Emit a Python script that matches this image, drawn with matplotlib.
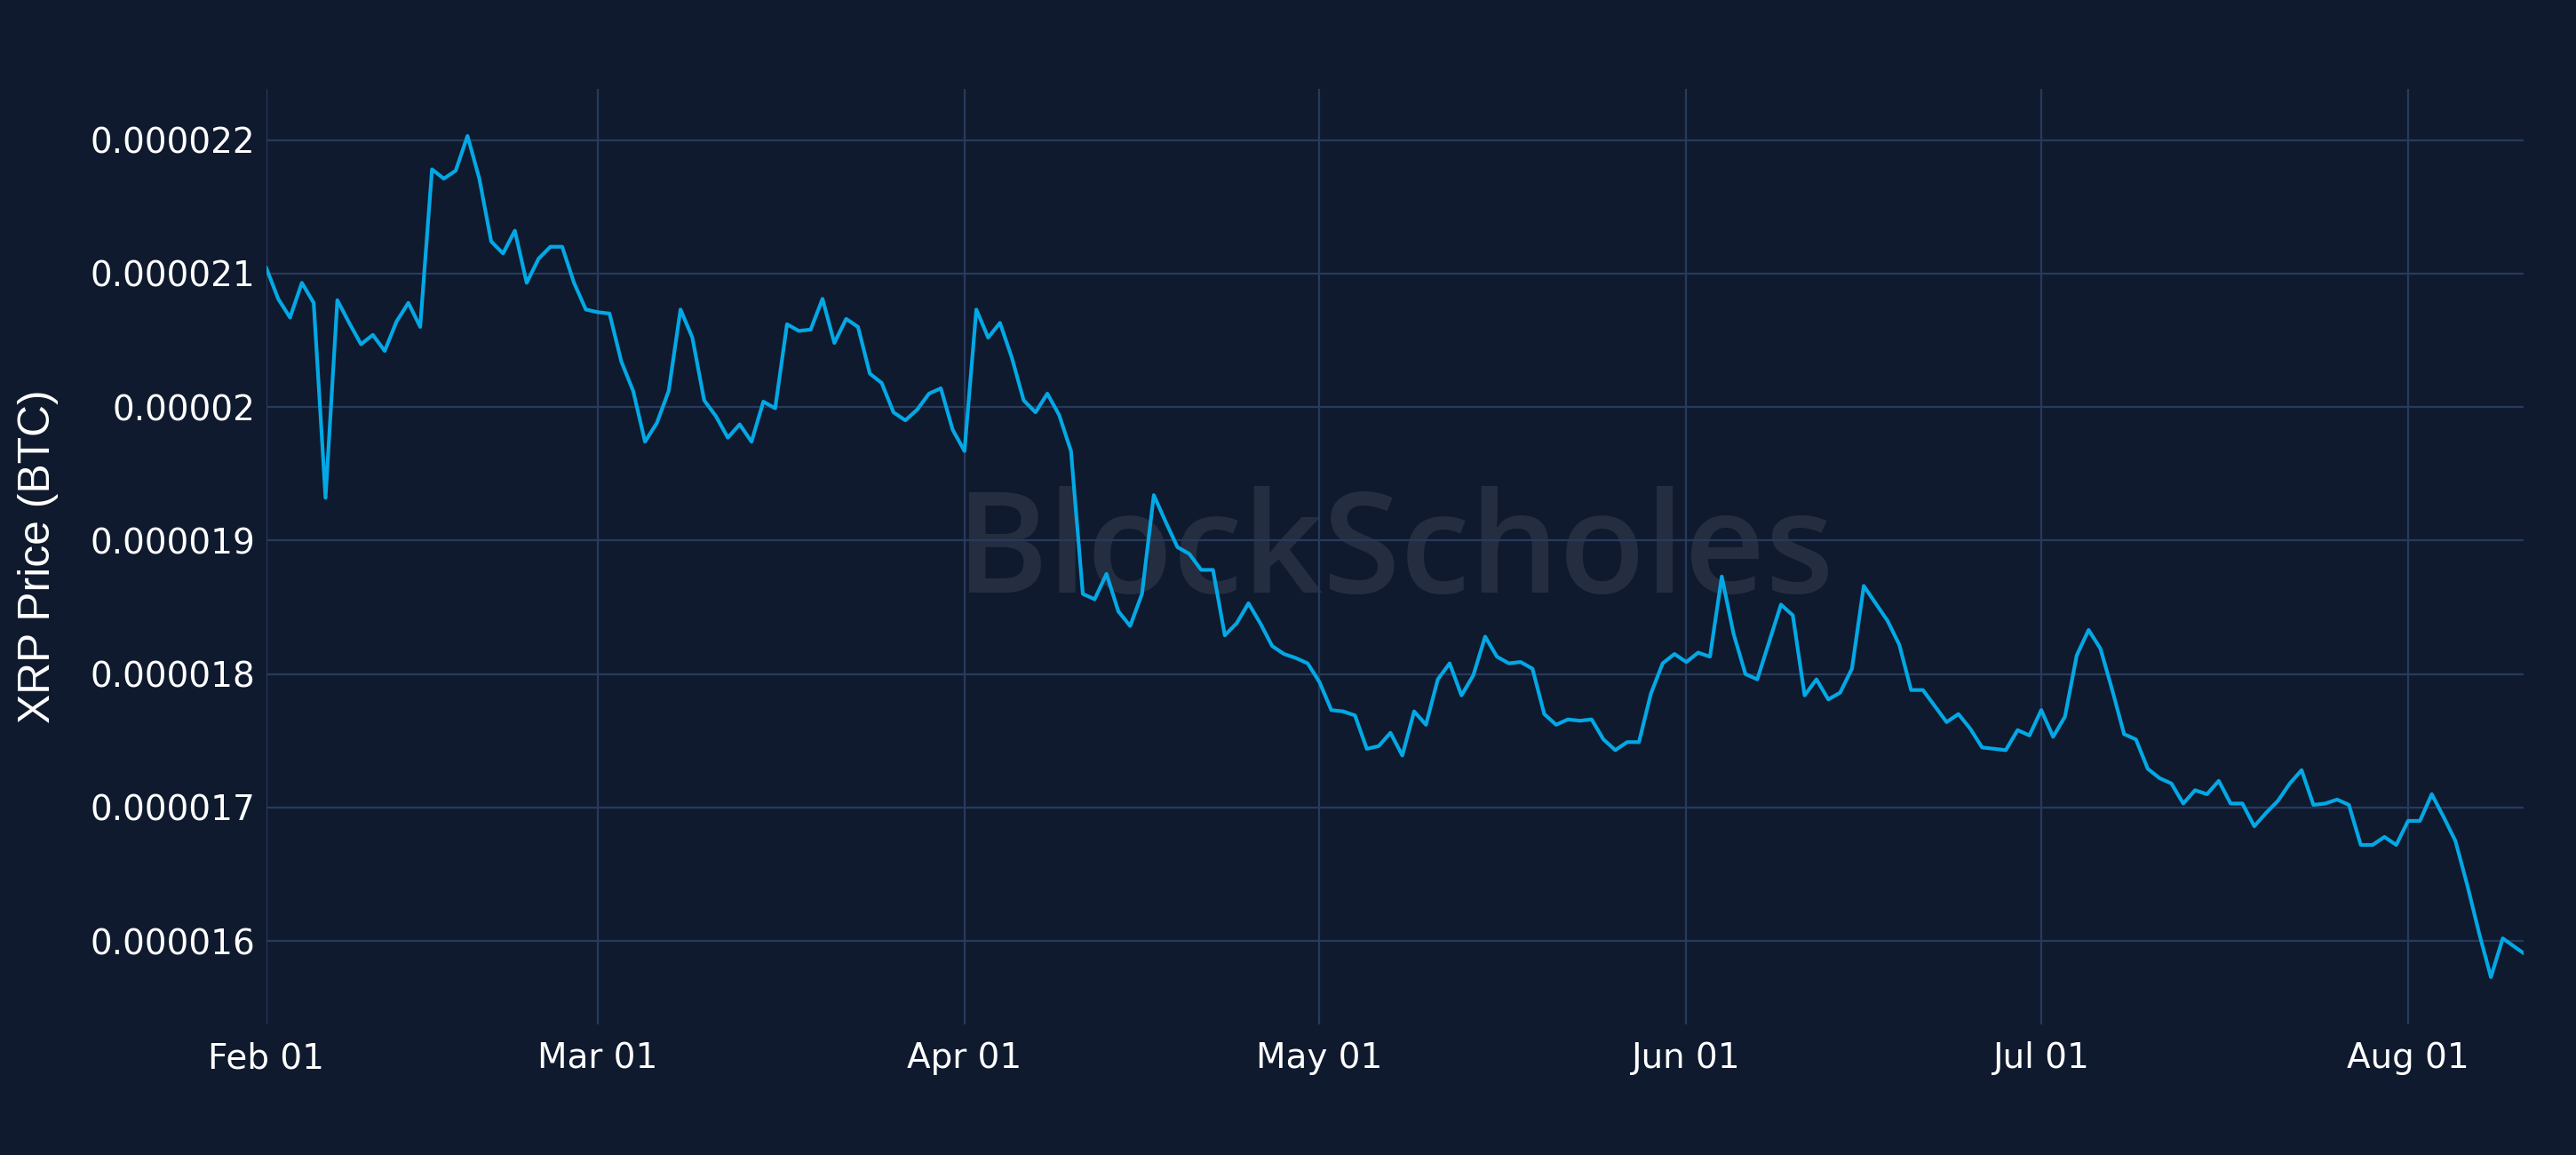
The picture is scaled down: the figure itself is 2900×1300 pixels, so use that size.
import numpy as np
import pandas as pd
import matplotlib
matplotlib.use('Agg')
import matplotlib.pyplot as plt
import matplotlib.dates as mdates

# XRP price in BTC, in units of 1e-6 BTC (daily, Feb 01 - Aug 09 2022)
feb = [21.04, 20.81, 20.67, 20.93, 20.78, 19.32, 20.80, 20.63, 20.47, 20.54,
       20.42, 20.64, 20.78, 20.60, 21.78, 21.71, 21.77, 22.03, 21.71, 21.24,
       21.15, 21.32, 20.93, 21.11, 21.20, 21.20, 20.93, 20.73]
mar = [20.71, 20.70, 20.34, 20.12, 19.74, 19.88, 20.12, 20.73, 20.52, 20.05,
       19.93, 19.77, 19.87, 19.74, 20.04, 19.99, 20.62, 20.57, 20.58, 20.81,
       20.48, 20.66, 20.60, 20.25, 20.18, 19.96, 19.90, 19.98, 20.10, 20.14, 19.83]
apr = [19.67, 20.73, 20.52, 20.63, 20.37, 20.05, 19.96, 20.10, 19.94, 19.67,
       18.60, 18.56, 18.75, 18.47, 18.36, 18.60, 19.34, 19.14, 18.95, 18.90,
       18.78, 18.78, 18.29, 18.38, 18.53, 18.38, 18.21, 18.15, 18.12, 18.08]
may = [17.94, 17.73, 17.72, 17.69, 17.44, 17.46, 17.56, 17.39, 17.72, 17.62,
       17.96, 18.08, 17.84, 17.99, 18.28, 18.13, 18.08, 18.09, 18.04, 17.70,
       17.62, 17.66, 17.65, 17.66, 17.51, 17.43, 17.49, 17.49, 17.85, 18.08, 18.15]
jun = [18.09, 18.16, 18.13, 18.73, 18.30, 18.00, 17.96, 18.24, 18.52, 18.44,
       17.84, 17.96, 17.81, 17.86, 18.04, 18.66, 18.53, 18.40, 18.22, 17.88,
       17.88, 17.76, 17.64, 17.70, 17.59, 17.45, 17.44, 17.43, 17.58, 17.54]
jul = [17.73, 17.53, 17.68, 18.14, 18.33, 18.19, 17.88, 17.55, 17.51, 17.29,
       17.22, 17.18, 17.03, 17.13, 17.10, 17.20, 17.03, 17.03, 16.86, 16.96,
       17.05, 17.18, 17.28, 17.02, 17.03, 17.06, 17.02, 16.72, 16.72, 16.78, 16.72]
aug = [16.90, 16.90, 17.10, 16.93, 16.75, 16.42, 16.06, 15.73, 16.02]
last_time = '2022-08-10 18:00'
last_value = 15.91

y_ticks = [0.000016, 0.000017, 0.000018, 0.000019, 0.00002, 0.000021, 0.000022]
y_tick_labels = ['0.000016', '0.000017', '0.000018', '0.000019', '0.00002', '0.000021', '0.000022']

daily = feb + mar + apr + may + jun + jul + aug
dates = list(pd.date_range('2022-02-01', periods=len(daily), freq='D')) + [pd.Timestamp(last_time)]
prices = np.array(daily + [last_value]) * 1e-6

bg = '#0f1a2e'
grid_col = '#283a5c'
line_col = '#03a8e5'

fig = plt.figure(figsize=(14.5, 6.5), dpi=200, facecolor=bg)
ax = fig.add_axes([0.1034, 0.1131, 0.8762, 0.8100])
ax.set_facecolor(bg)

ax.plot(dates, prices, color=line_col, linewidth=1.5, zorder=3)

ax.set_xlim(pd.Timestamp('2022-02-01'), pd.Timestamp(last_time))
ax.set_ylim(15.376e-6, 22.383e-6)

ax.xaxis.set_major_locator(mdates.MonthLocator())
ax.xaxis.set_major_formatter(mdates.DateFormatter('%b %d'))
ax.set_yticks(y_ticks)
ax.set_yticklabels(y_tick_labels)

ax.set_axisbelow(True)
ax.grid(True, color=grid_col, linewidth=0.8)
for s in ax.spines.values():
    s.set_visible(False)
ax.tick_params(axis='both', length=0, colors='white', labelsize=14)
ax.tick_params(axis='x', pad=7)
ax.tick_params(axis='y', pad=4.5)

# watermark
ax.text(0.5, 0.5, 'BlockScholes', transform=ax.transAxes, ha='center', va='center',
        fontsize=57, family='Open Sans', fontweight='semibold', color='#252e41', zorder=0.1)

fig.text(0.0148, 0.518, 'XRP Price (BTC)', rotation=90, ha='center', va='center',
         color='white', fontsize=17.9, family='Liberation Sans')

fig.savefig('out.png', dpi=200, facecolor=bg)
